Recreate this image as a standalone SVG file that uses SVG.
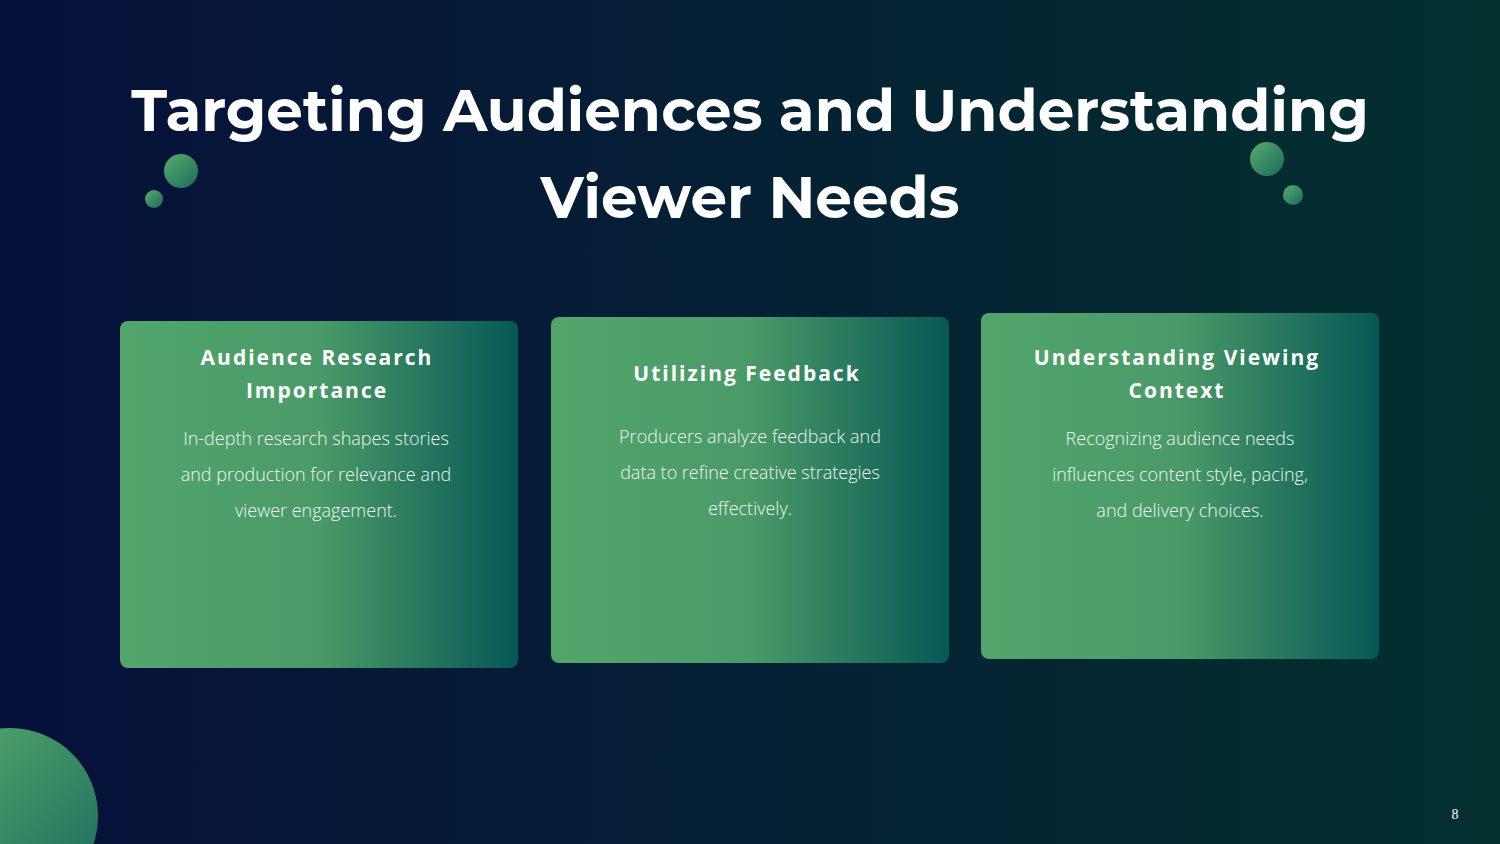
<svg xmlns="http://www.w3.org/2000/svg" width="1500" height="844" viewBox="0 0 1500 844">
<defs>
<linearGradient id="bg" x1="0" y1="0" x2="1" y2="0"><stop offset="0" stop-color="#06103a"/><stop offset="1" stop-color="#03302f"/></linearGradient>
<linearGradient id="card" x1="0" y1="0" x2="1" y2="0"><stop offset="0" stop-color="#52a66b"/><stop offset="0.5" stop-color="#4a9a68"/><stop offset="1" stop-color="#065855"/></linearGradient>
<linearGradient id="dot" x1="0" y1="0" x2="1" y2="1"><stop offset="0" stop-color="#58ad6c"/><stop offset="1" stop-color="#1a6a5c"/></linearGradient>
<style>
.t{font-family:"Montserrat","Open Sans","Liberation Sans",sans-serif;font-weight:700;fill:#fff;text-anchor:middle}
.h{font-family:"Open Sans","Liberation Sans",sans-serif;font-weight:700;font-size:21px;letter-spacing:2px;fill:#fff;text-anchor:middle}
.b{font-family:"Open Sans","Liberation Sans",sans-serif;font-weight:300;font-size:18px;fill:#eef6ef;text-anchor:middle}
</style>
</defs>
<rect width="1500" height="844" fill="url(#bg)"/>
<circle cx="181" cy="171" r="17" fill="url(#dot)"/>
<circle cx="154" cy="199" r="9" fill="url(#dot)"/>
<circle cx="1267" cy="159" r="17" fill="url(#dot)"/>
<circle cx="1293" cy="195" r="10" fill="url(#dot)"/>
<circle cx="10" cy="816" r="88" fill="url(#dot)"/>
<text class="t" x="750" y="131" font-size="58">Targeting Audiences and Understanding</text>
<text class="t" x="750" y="218" font-size="58">Viewer Needs</text>
<g id="card1">
<rect x="120" y="321" width="398" height="347" rx="8" fill="url(#card)"/>
<text class="h" x="317" y="365">Audience Research</text>
<text class="h" x="317" y="398">Importance</text>
<text class="b" x="316" y="445">In-depth research shapes stories</text>
<text class="b" x="316" y="481">and production for relevance and</text>
<text class="b" x="316" y="517">viewer engagement.</text>
</g>
<g id="card2">
<rect x="551" y="317" width="398" height="346" rx="8" fill="url(#card)"/>
<text class="h" x="747" y="381">Utilizing Feedback</text>
<text class="b" x="750" y="443">Producers analyze feedback and</text>
<text class="b" x="750" y="479">data to refine creative strategies</text>
<text class="b" x="750" y="515">effectively.</text>
</g>
<g id="card3">
<rect x="981" y="313" width="398" height="346" rx="8" fill="url(#card)"/>
<text class="h" x="1177" y="365">Understanding Viewing</text>
<text class="h" x="1177" y="398">Context</text>
<text class="b" x="1180" y="445">Recognizing audience needs</text>
<text class="b" x="1180" y="481">influences content style, pacing,</text>
<text class="b" x="1180" y="517">and delivery choices.</text>
</g>
<g id="connectors"/>
<text x="1455" y="819" font-family="Liberation Serif,serif" font-size="14" fill="#fff" text-anchor="middle">8</text>
</svg>
